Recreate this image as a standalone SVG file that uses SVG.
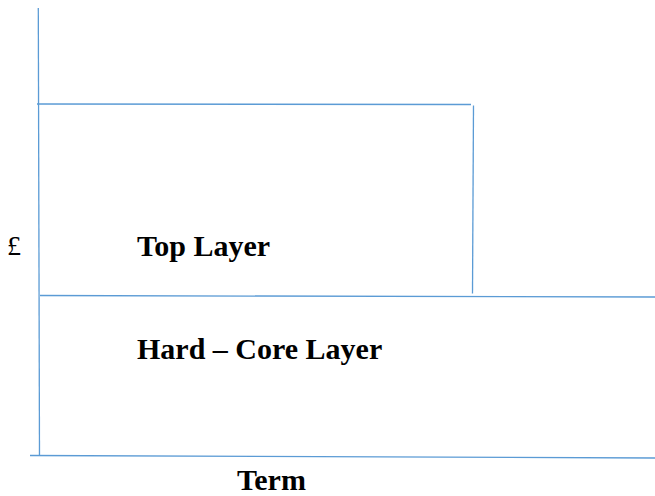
<svg xmlns="http://www.w3.org/2000/svg" width="655" height="496" viewBox="0 0 655 496">
  <style>
    .rule { stroke: #5b9bd5; stroke-width: 1.3; fill: none; }
    .label { font-family: "Liberation Serif", "Times New Roman", serif; font-weight: bold; font-size: 30px; fill: #000; }
    .axis-label { font-family: "Liberation Serif", "Times New Roman", serif; font-size: 28px; fill: #000; }
  </style>
  <rect width="655" height="496" fill="#fff"/>
  <g id="connectors">
    <line class="rule" x1="38.3" y1="8" x2="39.5" y2="456"/>
    <line class="rule" x1="37" y1="104" x2="471" y2="104.5"/>
    <line class="rule" x1="473.5" y1="105.5" x2="472.5" y2="293.5"/>
    <line class="rule" x1="40" y1="295.5" x2="655" y2="297"/>
    <line class="rule" x1="30" y1="455.5" x2="655" y2="458"/>
  </g>
  <g id="top-layer">
    <text class="label" x="137" y="256">Top Layer</text>
  </g>
  <g id="hard-core-layer">
    <text class="label" x="137" y="359">Hard – Core Layer</text>
  </g>
  <g id="axis-y">
    <text class="axis-label" x="7" y="255">£</text>
  </g>
  <g id="axis-x">
    <text class="label" x="237" y="490">Term</text>
  </g>
</svg>
